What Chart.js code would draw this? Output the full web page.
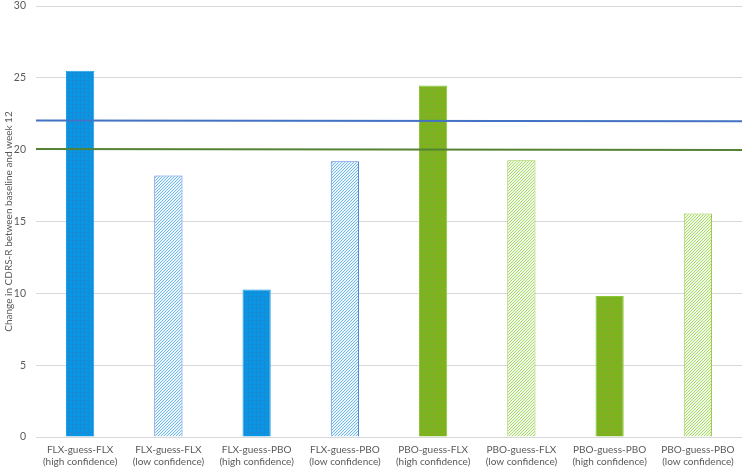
<!DOCTYPE html>
<html>
<head>
<meta charset="utf-8">
<script src="https://cdn.jsdelivr.net/npm/chart.js@4.4.1/dist/chart.umd.min.js"></script>
<style>
html,body{margin:0;padding:0;background:#fff;}
#wrap{width:746px;height:471px;position:relative;}
</style>
</head>
<body>
<div id="wrap"><canvas id="c" width="746" height="471"></canvas></div>
<script>
const categories = [
  ["FLX-guess-FLX","(high confidence)"],
  ["FLX-guess-FLX","(low confidence)"],
  ["FLX-guess-PBO","(high confidence)"],
  ["FLX-guess-PBO","(low confidence)"],
  ["PBO-guess-FLX","(high confidence)"],
  ["PBO-guess-FLX","(low confidence)"],
  ["PBO-guess-PBO","(high confidence)"],
  ["PBO-guess-PBO","(low confidence)"]
];
const changeValues = [25.5, 18.2, 10.26, 19.2, 24.47, 19.27, 9.82, 15.56];
const blueLine = [22.03, 21.97];
const greenLine = [20.05, 19.98];
const yTicks = [0, 5, 10, 15, 20, 25, 30];
const yTitle = "Change in CDRS-R between baseline and week 12";

function gridPattern(bg, line){
  const c = document.createElement('canvas'); c.width = 4; c.height = 4;
  const g = c.getContext('2d');
  g.fillStyle = bg; g.fillRect(0,0,4,4);
  g.fillStyle = line; g.fillRect(0,0,4,1); g.fillRect(0,0,1,4);
  return g.createPattern(c,'repeat');
}
function hatchPattern(bg, line){
  const c = document.createElement('canvas'); c.width = 3; c.height = 3;
  const g = c.getContext('2d');
  g.fillStyle = bg; g.fillRect(0,0,3,3);
  g.fillStyle = line;
  for(let i=0;i<3;i++){ g.fillRect(2-i, i, 1, 1); }
  return g.createPattern(c,'repeat');
}
const blueSolid = gridPattern('#0698e4','#1b8ad6');
const blueHatch = hatchPattern('#eef6fd','#6fb8ef');
const greenSolid = gridPattern('#76b81c','#88aa28');
const greenHatch = hatchPattern('#f2f9e8','#a9da6c');

const fills = [blueSolid, blueHatch, blueSolid, blueHatch, greenSolid, greenHatch, greenSolid, greenHatch];
const borders = ['#1aa0e8','#4f86dc','#1aa0e8','#4f86dc','#8cc63a','#9ccd48','#8cc63a','#9ccd48'];

const font = {family: "Lato, 'Open Sans', sans-serif", size: 10};

new Chart(document.getElementById('c'), {
  type: 'bar',
  data: {
    labels: categories,
    datasets: [
      {type:'bar', data: changeValues, backgroundColor: fills, borderColor: borders, borderWidth: 1,
       grouped: false, categoryPercentage: 1, barPercentage: 0.32, xAxisID: 'x', order: 2},
      {type:'line', data: [{x:0,y:blueLine[0]},{x:1,y:blueLine[1]}], borderColor:'#4472c4', borderWidth: 2,
       pointRadius: 0, xAxisID: 'x2', order: 1},
      {type:'line', data: [{x:0,y:greenLine[0]},{x:1,y:greenLine[1]}], borderColor:'#548235', borderWidth: 2,
       pointRadius: 0, xAxisID: 'x2', order: 1}
    ]
  },
  options: {
    responsive: false,
    animation: false,
    layout: {padding: {top: 6, right: 4, left: 0, bottom: 0}},
    plugins: {legend: {display: false}, tooltip: {enabled: false}},
    scales: {
      x: {
        type: 'category',
        offset: true,
        grid: {display: false, drawTicks: false, offset: true},
        border: {display: false},
        ticks: {color: '#595959', font: font, padding: 7, maxRotation: 0, autoSkip: false},
        afterFit: s => { s.height = 34; s.paddingLeft = 0; s.paddingRight = 0; }
      },
      x2: {
        type: 'linear', min: 0, max: 1, display: false, offset: false
      },
      y: {
        min: 0, max: 30,
        afterBuildTicks: s => { s.ticks = yTicks.map(v => ({value: v})); },
        grid: {color: '#d9d9d9', drawTicks: false},
        border: {display: false},
        ticks: {color: '#595959', font: {family: font.family, size: 10.5}, padding: 10},
        title: {display: true, text: yTitle, color: '#595959', font: font, padding: {top: 3, bottom: 0}},
        afterFit: s => { s.width = 36; s.paddingTop = 0; s.paddingBottom = 0; }
      }
    }
  }
});
</script>
</body>
</html>
